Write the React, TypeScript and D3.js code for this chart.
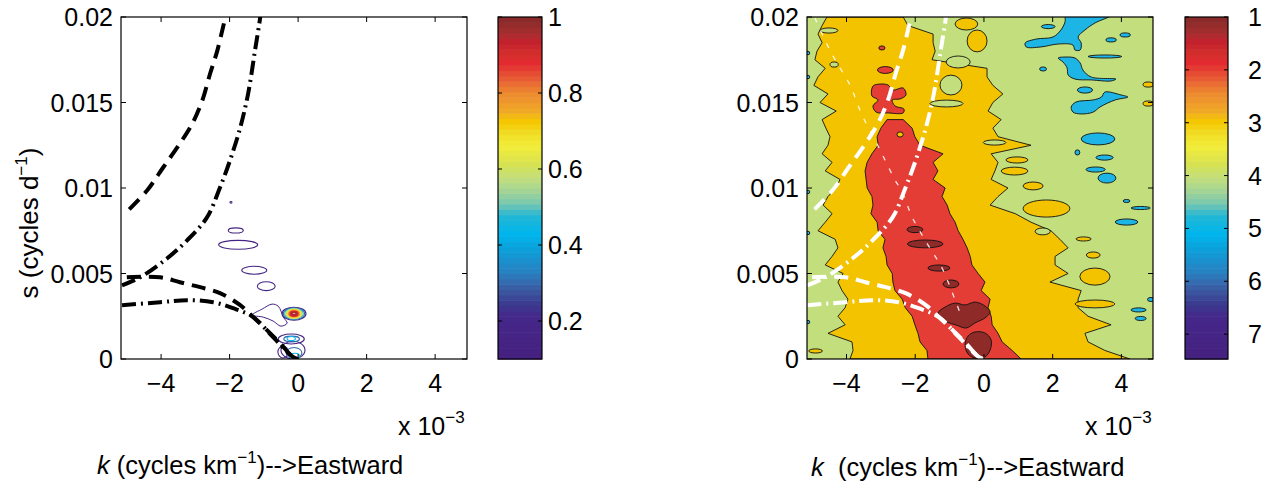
import React from 'react';
import * as d3 from 'd3';

const FONT = '"Liberation Sans", Arial, Helvetica, sans-serif';
const FS = 25;

// ---------- axes / ticks ----------
const xTicks = [-4, -2, 0, 2, 4];
const xTickLabels = ['\u22124', '\u22122', '0', '2', '4'];
const yTicks = [0, 0.005, 0.01, 0.015, 0.02];
const yTickLabels = ['0', '0.005', '0.01', '0.015', '0.02'];
const cbLeftTicks = [0.2, 0.4, 0.6, 0.8, 1];
const cbLeftLabels = ['0.2', '0.4', '0.6', '0.8', '1'];
const cbRightTicks = [1, 2, 3, 4, 5, 6, 7];
const cbRightLabels = ['1', '2', '3', '4', '5', '6', '7'];

// ---------- colormap (position 0 = bottom, 1 = top) ----------
const cmapPos = [0.011, 0.127, 0.166, 0.203, 0.252, 0.311, 0.367, 0.418, 0.456, 0.494, 0.533, 0.573, 0.622, 0.66, 0.694, 0.728, 0.778, 0.822, 0.867, 0.889, 0.933, 0.951, 0.989];
const cmapColors = ['#452180', '#45288a', '#3a3d90', '#3c5aa2', '#2a7fc0', '#109bd6', '#00b5ec', '#20b7d5', '#7ac8b0', '#a5d594', '#c5df7a', '#d8e250', '#f1ed39', '#f1de27', '#f4c800', '#f0a828', '#ec8a30', '#e85a35', '#e32a30', '#d5302c', '#c0202e', '#a93030', '#8b2a2a'];

// ---------- dispersion curves (k in 1e-3 cycles/km, s in cycles/day) ----------
const curveDashedUpper: [number, number][] = [[-4.93, 0.00875], [-4.41, 0.00985], [-3.94, 0.0112], [-3.45, 0.0126], [-3.09, 0.01376], [-2.8, 0.0151], [-2.57, 0.01668], [-2.36, 0.01802], [-2.13, 0.0199], [-2.08, 0.0202]];
const curveDashDotUpper: [number, number][] = [[-5.14, 0.00431], [-4.61, 0.00478], [-3.82, 0.00589], [-3.24, 0.00694], [-2.66, 0.00828], [-2.28, 0.01003], [-1.99, 0.0116], [-1.69, 0.01353], [-1.46, 0.01551], [-1.26, 0.01802], [-1.11, 0.01994], [-1.1, 0.0202]];
const curveDashedLower: [number, number][] = [[-5.0, 0.00478], [-4.03, 0.00478], [-3.45, 0.00449], [-2.86, 0.0042], [-2.28, 0.00385], [-1.69, 0.00315], [-1.31, 0.00245], [-0.91, 0.00169], [-0.53, 0.00093], [-0.15, 0.00012], [0, 0]];
const curveDashDotLower: [number, number][] = [[-5.14, 0.00315], [-4.03, 0.00332], [-3.24, 0.00344], [-2.48, 0.00332], [-1.9, 0.00297], [-1.31, 0.00245], [-0.73, 0.00128], [-0.15, 0.00012], [0, 0]];
const ridgeThin: [number, number][] = [[-4.92, 0.01994], [-4.63, 0.01866], [-4.33, 0.01749], [-3.9, 0.01602], [-3.55, 0.01427], [-3.17, 0.01281], [-2.88, 0.01164], [-2.59, 0.01047], [-2.38, 0.00977], [-2.09, 0.0083], [-1.63, 0.00667], [-1.22, 0.00532], [-0.93, 0.00392], [-0.64, 0.0024]];

// ---------- left panel contours: [k, s, rk, rs, level] ----------
const leftRings: [number, number, number, number, number][] = [
  [-1.96, 0.00916, 0.03, 0.00005, 0.15],
  [-1.82, 0.00752, 0.22, 0.00015, 0.15],
  [-1.75, 0.00668, 0.57, 0.00026, 0.15],
  [-1.28, 0.00519, 0.365, 0.00023, 0.15],
  [-0.93, 0.00426, 0.26, 0.00026, 0.15],
  [-0.2, 0.00117, 0.38, 0.00029, 0.15],
  [-0.15, 0.00052, 0.35, 0.00052, 0.15],
  [-0.44, 0.00041, 0.15, 0.00035, 0.15],
  [-0.19, 0.00117, 0.23, 0.00017, 0.3],
  [-0.2, 0.0012, 0.12, 0.00012, 0.45],
  [-0.12, 0.00035, 0.23, 0.00032, 0.3],
  [-0.09, 0.00017, 0.13, 0.00017, 0.45],
  [-0.12, 0.00265, 0.35, 0.00038, 0.15],
  [-0.12, 0.00265, 0.31, 0.00034, 0.3],
  [-0.12, 0.00265, 0.27, 0.0003, 0.45],
  [-0.12, 0.00265, 0.23, 0.00026, 0.58],
  [-0.12, 0.00265, 0.19, 0.00022, 0.68],
  [-0.12, 0.00265, 0.15, 0.00018, 0.78],
  [-0.12, 0.00265, 0.11, 0.00013, 0.88],
  [-0.12, 0.00265, 0.07, 0.00008, 0.95],
];
const leftCloud: [number, number][] = [[-1.34, 0.00257], [-1.05, 0.00292], [-0.76, 0.00321], [-0.58, 0.00309], [-0.5, 0.0028], [-0.41, 0.00239], [-0.32, 0.0021], [-0.5, 0.00192], [-0.73, 0.00222], [-1.02, 0.00245]];

// ---------- right panel: band boundaries per s row ----------
const sRows = [0.02, 0.0195, 0.019, 0.0185, 0.018, 0.0175, 0.017, 0.0165, 0.016, 0.0155, 0.015, 0.0145, 0.014, 0.0135, 0.013, 0.0125, 0.012, 0.0115, 0.011, 0.0105, 0.01, 0.0095, 0.009, 0.0085, 0.008, 0.0075, 0.007, 0.0065, 0.006, 0.0055, 0.005, 0.0045, 0.004, 0.0035, 0.003, 0.0025, 0.002, 0.0015, 0.001, 0.0005, 0];
const goldLeftK = [-4.57, -4.71, -4.83, -4.71, -4.86, -4.92, -4.62, -4.83, -4.95, -4.54, -4.77, -4.3, -4.71, -4.6, -4.48, -4.54, -4.71, -4.42, -4.62, -4.19, -4.3, -4.54, -4.68, -4.42, -4.62, -4.83, -4.33, -4.25, -4.42, -4.62, -4.1, -4.25, -4.13, -3.96, -4.04, -4.25, -4.04, -4.54, -3.84, -3.81, -3.9];
const goldRightK = [-2.35, -2.21, -1.48, -1.48, -1.42, -1.51, 0.09, 0.09, 0.26, 0.55, 0.26, 0.12, 0.5, 0.26, 0.41, 1.37, 0.21, 0.41, 0.32, 0.21, 0.7, 0.41, 0.18, 0.91, 1.37, 1.95, 2.21, 2.45, 2.07, 2.07, 2.45, 1.92, 2.83, 2.74, 2.74, 3.03, 3.7, 2.94, 3.03, 3.52, 4.25];
const redLeftK = [null, null, null, null, null, null, null, null, null, null, null, null, -2.82, -3.0, -3.11, -3.08, -3.26, -3.4, -3.46, -3.43, -3.4, -3.26, -3.23, -3.29, -3.11, -3.08, -2.88, -2.94, -2.85, -2.82, -2.67, -2.65, -2.59, -2.38, -2.29, -2.09, -2.01, -1.92, -1.86, -1.66, -1.63];
const redRightK = [null, null, null, null, null, null, null, null, null, null, null, null, -2.35, -2.09, -2.01, -1.86, -1.19, -1.48, -1.34, -1.48, -1.13, -1.22, -1.07, -0.99, -0.84, -0.75, -0.61, -0.49, -0.4, -0.35, -0.17, 0.03, -0.08, 0.18, 0.12, 0.21, 0.24, 0.41, 0.53, 0.82, 1.08];

// islands: [k, s, rk, rs]
const greenIslands: [number, number, number, number][] = [
  [-0.96, 0.01602, 0.32, 0.00058], [-1.09, 0.01494, 0.48, 0.0002], [0.31, 0.01266, 0.33, 0.00015],
  [1.71, 0.00746, 0.22, 0.0002], [-4.36, 0.01722, 0.12, 0.00015], [-4.51, 0.01921, 0.26, 0.00015],
  [-0.75, 0.01737, 0.35, 0.00035],
];
const goldIslands: [number, number, number, number][] = [
  [-0.51, 0.01959, 0.33, 0.00035], [-0.2, 0.0186, 0.29, 0.00064], [4.78, 0.01605, 0.15, 0.00015],
  [4.78, 0.01494, 0.15, 0.00015], [0.96, 0.01164, 0.32, 0.00018], [0.89, 0.01099, 0.39, 0.00023],
  [1.43, 0.01012, 0.29, 0.00023], [1.82, 0.0088, 0.68, 0.0005], [2.9, 0.00702, 0.22, 0.00012],
  [3.18, 0.00608, 0.2, 0.00018], [3.23, 0.00482, 0.44, 0.0005], [3.23, 0.00322, 0.58, 0.00023],
  [-4.9, 0.00047, 0.2, 0.00012],
];
const goldInRed: [number, number, number, number][] = [[-2.44, 0.01313, 0.09, 0.00015]];
const redIslands: [number, number, number, number][] = [
  [-2.97, 0.01819, 0.09, 0.00012], [-2.87, 0.0169, 0.23, 0.0002],
];
const redBlobX: [number, number][] = [[-3.23, 0.01596], [-3.02, 0.01608], [-2.79, 0.01602], [-2.65, 0.01573], [-2.35, 0.01585], [-2.27, 0.01544], [-2.44, 0.01521], [-2.67, 0.01515], [-2.59, 0.0148], [-2.33, 0.01462], [-2.35, 0.01439], [-2.79, 0.01439], [-3.14, 0.01444], [-3.23, 0.0148], [-3.08, 0.01515], [-3.26, 0.01538]];
const darkRedIslands: [number, number, number, number][] = [
  [-2.01, 0.00757, 0.23, 0.00018], [-1.71, 0.00673, 0.52, 0.00023], [-1.31, 0.00532, 0.32, 0.00018], [-0.96, 0.00439, 0.23, 0.00023],
];
const darkRedBlobA: [number, number][] = [[-1.34, 0.00269], [-1.13, 0.00304], [-0.84, 0.00327], [-0.55, 0.00316], [-0.26, 0.00333], [0.03, 0.0031], [0.18, 0.00275], [0.03, 0.0024], [-0.26, 0.00211], [-0.52, 0.00181], [-0.81, 0.00199], [-1.08, 0.00216], [-1.28, 0.0024]];
const darkRedBlobB: [number, number][] = [[-0.55, 0.00082], [-0.46, 0.00135], [-0.26, 0.00158], [0.03, 0.00152], [0.21, 0.00111], [0.18, 0.00053], [0.03, 0.00012], [-0.26, 0.00006], [-0.46, 0.00029]];
const blueIslands: [number, number, number, number][] = [
  [1.87, 0.01944, 0.2, 0.00012], [3.7, 0.01866, 0.15, 0.00012], [4.11, 0.01895, 0.15, 0.00012],
  [3.52, 0.01769, 0.49, 0.00009], [1.72, 0.01696, 0.1, 0.00012], [2.94, 0.01573, 0.22, 0.00018],
  [3.32, 0.01287, 0.49, 0.00035], [2.72, 0.01208, 0.07, 0.00015], [3.51, 0.01178, 0.25, 0.00015],
  [3.25, 0.01108, 0.28, 0.00015], [3.58, 0.01058, 0.26, 0.00029], [4.15, 0.00924, 0.1, 0.00009],
  [4.56, 0.00883, 0.28, 0.00009], [4.15, 0.00801, 0.33, 0.00018], [4.5, 0.00287, 0.22, 0.00012],
  [4.56, 0.00237, 0.16, 0.00012], [4.86, 0.00348, 0.1, 0.00012],
  [-5.12, 0.01789, 0.05, 0.0001], [-5.12, 0.01649, 0.05, 0.0001], [-5.12, 0.00977, 0.05, 0.0001],
  [-5.12, 0.00737, 0.05, 0.0001], [-5.12, 0.00216, 0.05, 0.0001],
];
const blueBlobA: [number, number][] = [[2.39, 0.0201], [3.7, 0.0201], [3.23, 0.01965], [2.94, 0.01924], [2.74, 0.01883], [2.83, 0.01848], [2.8, 0.01807], [2.65, 0.01807], [2.59, 0.01836], [2.16, 0.01842], [1.66, 0.01825], [1.23, 0.01825], [1.2, 0.01848], [1.52, 0.01871], [2.01, 0.01883], [2.24, 0.01924], [2.36, 0.01971]];
const blueBlobB: [number, number][] = [[2.16, 0.0176], [2.39, 0.01766], [2.65, 0.0176], [2.8, 0.01731], [2.88, 0.0169], [3.12, 0.01649], [3.84, 0.01637], [3.7, 0.01626], [3.12, 0.01632], [2.65, 0.01637], [2.45, 0.01661], [2.42, 0.01702], [2.3, 0.01737]];
const blueBlobC: [number, number][] = [[2.59, 0.01444], [2.54, 0.01474], [2.68, 0.01503], [3.18, 0.01515], [3.42, 0.01532], [3.52, 0.01561], [3.99, 0.01544], [4.19, 0.01532], [3.82, 0.01515], [3.38, 0.01474], [3.18, 0.01444], [2.83, 0.01433]];

const FILL = { green: '#c3df7d', gold: '#f3c300', red: '#e33d36', darkred: '#8e2b28', blue: '#1cb5e5' };

const cmapScale = d3.scaleLinear<string>().domain(cmapPos).range(cmapColors).clamp(true);
function cmap(t: number): string {
  return cmapScale(t);
}

const W = 1271, H = 485;
const TOP = 17, BOT = 359;
const L = { x0: 121, x1: 467 };
const R = { x0: 807, x1: 1153 };
const CBL = { x0: 498, x1: 542 };
const CBR = { x0: 1185, x1: 1228 };

const xL = d3.scaleLinear().domain([-5.17, 4.93]).range([L.x0, L.x1]);
const xR = d3.scaleLinear().domain([-5.15, 4.92]).range([R.x0, R.x1]);
const yS = d3.scaleLinear().domain([0, 0.02]).range([BOT, TOP]);
const cbLScale = d3.scaleLinear().domain([0.1, 1]).range([BOT, TOP]);
const cbRScale = d3.scaleLinear().domain([1, 7.47]).range([TOP, BOT]);

const DASH = '14,8';
const DASHDOT = '14,5,2,5';

function Frame({ x0, x1, xs }: { x0: number; x1: number; xs: d3.ScaleLinear<number, number> }) {
  const tl = 5;
  return (
    <g>
      <rect x={x0} y={TOP} width={x1 - x0} height={BOT - TOP} fill="none" stroke="#000" strokeWidth={1.2} />
      {xTicks.map((t) => (
        <g key={'x' + t}>
          <line x1={xs(t)} x2={xs(t)} y1={BOT} y2={BOT - tl} stroke="#000" />
          <line x1={xs(t)} x2={xs(t)} y1={TOP} y2={TOP + tl} stroke="#000" />
        </g>
      ))}
      {yTicks.map((t) => (
        <g key={'y' + t}>
          <line x1={x0} x2={x0 + tl} y1={yS(t)} y2={yS(t)} stroke="#000" />
          <line x1={x1} x2={x1 - tl} y1={yS(t)} y2={yS(t)} stroke="#000" />
        </g>
      ))}
      {xTicks.map((t, i) => (
        <text key={'xl' + t} x={xs(t)} y={392} textAnchor="middle" fontSize={FS} fontFamily={FONT}>{xTickLabels[i]}</text>
      ))}
      {yTicks.map((t, i) => (
        <text key={'yl' + t} x={x0 - 8} y={yS(t) + 9} textAnchor="end" fontSize={FS} fontFamily={FONT}>{yTickLabels[i]}</text>
      ))}
    </g>
  );
}

function ColorBar({ x0, x1, ticks, labels, scale, labelX }: { x0: number; x1: number; ticks: number[]; labels: string[]; scale: d3.ScaleLinear<number, number>; labelX: number }) {
  const n = 64;
  const h = (BOT - TOP) / n;
  const bands = d3.range(n).map((i) => {
    const t = (i + 0.5) / n; // 0 = bottom
    return { y: BOT - (i + 1) * h, c: cmap(t) };
  });
  return (
    <g>
      {bands.map((b, i) => (
        <rect key={i} x={x0} y={b.y} width={x1 - x0} height={h + 0.6} fill={b.c} />
      ))}
      <rect x={x0} y={TOP} width={x1 - x0} height={BOT - TOP} fill="none" stroke="#000" strokeWidth={1.2} />
      {ticks.map((t, i) => (
        <g key={i}>
          <line x1={x0} x2={x0 + 4} y1={scale(t)} y2={scale(t)} stroke="#000" />
          <line x1={x1} x2={x1 - 4} y1={scale(t)} y2={scale(t)} stroke="#000" />
          <text x={labelX} y={scale(t) + 9} fontSize={FS} fontFamily={FONT}>{labels[i]}</text>
        </g>
      ))}
    </g>
  );
}

function curvePath(xs: d3.ScaleLinear<number, number>, pts: [number, number][]) {
  return d3.line<[number, number]>().x((d) => xs(d[0])).y((d) => yS(d[1])).curve(d3.curveCatmullRom)(pts) || '';
}
function blobPath(xs: d3.ScaleLinear<number, number>, pts: [number, number][]) {
  return d3.line<[number, number]>().x((d) => xs(d[0])).y((d) => yS(d[1])).curve(d3.curveCatmullRomClosed)(pts) || '';
}

function Ell({ xs, d, fill, stroke, sw }: { xs: d3.ScaleLinear<number, number>; d: number[]; fill: string; stroke: string; sw: number }) {
  const [k, s, rk, rs] = d;
  return <ellipse cx={xs(k)} cy={yS(s)} rx={xs(k + rk) - xs(k)} ry={yS(s) - yS(s + rs)} fill={fill} stroke={stroke} strokeWidth={sw} />;
}

function XTitle({ x, y, gap }: { x: number; y: number; gap: string }) {
  return (
    <text x={x} y={y} fontSize={25.5} fontFamily={FONT} xmlSpace="preserve">
      <tspan fontStyle="italic">k</tspan>
      <tspan>{gap + '(cycles km'}</tspan>
      <tspan dy={-11} fontSize={17}>{'\u22121'}</tspan>
      <tspan dy={11}>{')-->Eastward'}</tspan>
    </text>
  );
}

function Exponent({ x, y }: { x: number; y: number }) {
  return (
    <text x={x} y={y} fontSize={FS} fontFamily={FONT}>
      <tspan>x 10</tspan>
      <tspan dy={-12} fontSize={17}>{'\u22123'}</tspan>
    </text>
  );
}

export default function App() {
  const idx = sRows.map((_, i) => i);
  const goldArea = d3.area<number>()
    .y((i) => yS(sRows[i]))
    .x0((i) => xR(goldLeftK[i]))
    .x1((i) => xR(goldRightK[i]))(idx) || '';
  const redArea = d3.area<number>()
    .defined((i) => redLeftK[i] != null && redRightK[i] != null)
    .y((i) => yS(sRows[i]))
    .x0((i) => xR(redLeftK[i] as number))
    .x1((i) => xR(redRightK[i] as number))(idx) || '';

  const lw = 0.9;
  return (
    <svg width={W} height={H} style={{ position: 'absolute', left: 0, top: 0, background: '#fff' }}>
      <defs>
        <clipPath id="clipL"><rect x={L.x0} y={TOP} width={L.x1 - L.x0} height={BOT - TOP} /></clipPath>
        <clipPath id="clipR"><rect x={R.x0} y={TOP} width={R.x1 - R.x0} height={BOT - TOP} /></clipPath>
      </defs>

      {/* ---------------- LEFT PANEL ---------------- */}
      <g clipPath="url(#clipL)">
        <rect x={L.x0} y={TOP} width={L.x1 - L.x0} height={BOT - TOP} fill="#fff" />
        <path d={blobPath(xL, leftCloud)} fill="none" stroke={cmap((0.15 - 0.1) / 0.9)} strokeWidth={1} />
        {leftRings.map((r, i) => (
          <Ell key={i} xs={xL} d={r} fill="none" stroke={cmap((r[4] - 0.1) / 0.9)} sw={r[4] > 0.5 ? 2 : 1.1} />
        ))}
        <path d={curvePath(xL, curveDashedUpper)} fill="none" stroke="#000" strokeWidth={4} strokeDasharray={DASH} />
        <path d={curvePath(xL, curveDashDotUpper)} fill="none" stroke="#000" strokeWidth={4} strokeDasharray={DASHDOT} />
        <path d={curvePath(xL, curveDashedLower)} fill="none" stroke="#000" strokeWidth={4} strokeDasharray={DASH} />
        <path d={curvePath(xL, curveDashDotLower)} fill="none" stroke="#000" strokeWidth={4} strokeDasharray={DASHDOT} />
      </g>
      <Frame x0={L.x0} x1={L.x1} xs={xL} />
      <ColorBar x0={CBL.x0} x1={CBL.x1} ticks={cbLeftTicks} labels={cbLeftLabels} scale={cbLScale} labelX={548} />
      <Exponent x={398} y={435} />
      <XTitle x={97} y={474} gap=" " />
      <text transform="translate(38,223) rotate(-90)" textAnchor="middle" fontSize={26} fontFamily={FONT}>
        <tspan>s (cycles d</tspan>
        <tspan dy={-11} fontSize={17}>{'\u22121'}</tspan>
        <tspan dy={11}>)</tspan>
      </text>

      {/* ---------------- RIGHT PANEL ---------------- */}
      <g clipPath="url(#clipR)">
        <rect x={R.x0} y={TOP} width={R.x1 - R.x0} height={BOT - TOP} fill={FILL.green} />
        <path d={goldArea} fill={FILL.gold} stroke="#111" strokeWidth={lw} />
        {greenIslands.map((d, i) => <Ell key={'g' + i} xs={xR} d={d} fill={FILL.green} stroke="#111" sw={lw} />)}
        {goldIslands.map((d, i) => <Ell key={'o' + i} xs={xR} d={d} fill={FILL.gold} stroke="#111" sw={lw} />)}
        <path d={redArea} fill={FILL.red} stroke="#111" strokeWidth={lw} />
        <path d={blobPath(xR, redBlobX)} fill={FILL.red} stroke="#111" strokeWidth={lw} />
        {redIslands.map((d, i) => <Ell key={'r' + i} xs={xR} d={d} fill={FILL.red} stroke="#111" sw={lw} />)}
        {goldInRed.map((d, i) => <Ell key={'q' + i} xs={xR} d={d} fill={FILL.gold} stroke="#111" sw={lw} />)}
        {darkRedIslands.map((d, i) => <Ell key={'d' + i} xs={xR} d={d} fill={FILL.darkred} stroke="#111" sw={lw} />)}
        <path d={blobPath(xR, darkRedBlobA)} fill={FILL.darkred} stroke="#111" strokeWidth={lw} />
        <path d={blobPath(xR, darkRedBlobB)} fill={FILL.darkred} stroke="#111" strokeWidth={lw} />
        {blueIslands.map((d, i) => <Ell key={'b' + i} xs={xR} d={d} fill={FILL.blue} stroke="#111" sw={lw} />)}
        <path d={blobPath(xR, blueBlobA)} fill={FILL.blue} stroke="#111" strokeWidth={lw} />
        <path d={blobPath(xR, blueBlobB)} fill={FILL.blue} stroke="#111" strokeWidth={lw} />
        <path d={blobPath(xR, blueBlobC)} fill={FILL.blue} stroke="#111" strokeWidth={lw} />

        <path d={curvePath(xR, ridgeThin)} fill="none" stroke="#fff" strokeWidth={1.3} strokeDasharray="5,9" opacity={0.85} />
        <path d={curvePath(xR, curveDashedUpper)} fill="none" stroke="#fff" strokeWidth={4} strokeDasharray={DASH} />
        <path d={curvePath(xR, curveDashDotUpper)} fill="none" stroke="#fff" strokeWidth={4} strokeDasharray={DASHDOT} />
        <path d={curvePath(xR, curveDashedLower)} fill="none" stroke="#fff" strokeWidth={4} strokeDasharray={DASH} />
        <path d={curvePath(xR, curveDashDotLower)} fill="none" stroke="#fff" strokeWidth={4} strokeDasharray={DASHDOT} />
      </g>
      <Frame x0={R.x0} x1={R.x1} xs={xR} />
      <ColorBar x0={CBR.x0} x1={CBR.x1} ticks={cbRightTicks} labels={cbRightLabels} scale={cbRScale} labelX={1248} />
      <Exponent x={1085} y={435} />
      <XTitle x={811} y={476} gap="  " />
    </svg>
  );
}
